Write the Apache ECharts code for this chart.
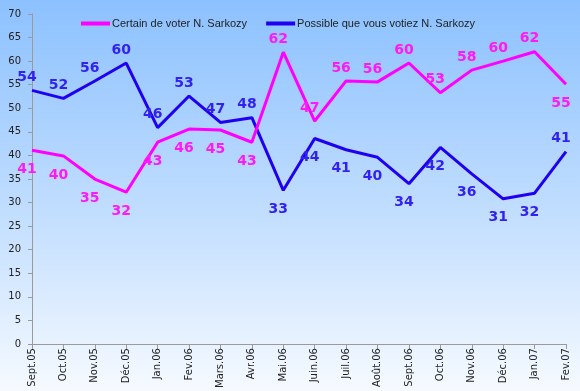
<!DOCTYPE html>
<html>
<head>
<meta charset="utf-8">
<script src="https://cdn.jsdelivr.net/npm/echarts@6/dist/echarts.min.js"></script>
<style>html,body{margin:0;padding:0;}#c{width:580px;height:391px;}</style>
</head>
<body>
<div id="c"></div>
<script>
const categories = ['Sept.05','Oct.05','Nov.05','Déc.05','Jan.06','Fev.06','Mars.06','Avr.06','Mai.06','Juin.06','Juil.06','Août.06','Sept.06','Oct.06','Nov.06','Déc.06','Jan.07','Fev.07'];
const certain = [41.1,39.9,35.0,32.2,42.8,45.6,45.4,42.8,61.9,47.3,55.8,55.6,59.6,53.3,58.1,60.0,62.0,55.1];
const possible = [53.8,52.1,55.8,59.6,45.9,52.6,47.0,48.0,32.6,43.6,41.2,39.6,34.0,41.7,36.1,30.8,32.0,40.8];
const seriesNames = ['Certain de voter N. Sarkozy','Possible que vous votiez N. Sarkozy'];

// label placement (style only)
const certainLabelPos = ['bottom','bottom','bottom','bottom','bottom','bottom','bottom','bottom','top','top','top','top','top','top','top','top','top','bottom'];
const possibleLabelPos = ['top','top','top','top','top','top','top','top','bottom','bottom','bottom','bottom','bottom','bottom','bottom','bottom','bottom','top'];

const pinkLine = '#FF00FF', pinkText = '#FF1AF5';
const blueLine = '#2000F0', blueText = '#3322EE';

function buildData(values, positions) {
  return values.map((v, i) => ({
    value: v,
    label: {
      position: positions[i],
      distance: positions[i] === 'top' ? 6 : 12,
      offset: [-5, 0]
    }
  }));
}

const labelBase = (color) => ({
  show: true,
  color: color,
  fontFamily: 'DejaVu Sans',
  fontWeight: 'bold',
  fontSize: 14,
  formatter: p => Math.round(p.value)
});

const chart = echarts.init(document.getElementById('c'), null, {renderer: 'canvas'});
chart.setOption({
  animation: false,
  backgroundColor: new echarts.graphic.LinearGradient(0, 0, 0, 1, [
    {offset: 0, color: '#8CC1FF'},
    {offset: 0.55, color: '#C2DEFF'},
    {offset: 1, color: '#F6FAFF'}
  ]),
  grid: {left: 32, right: 14, top: 14, bottom: 45, containLabel: false},
  legend: {
    left: 76, top: 13,
    icon: 'rect', itemWidth: 29, itemHeight: 4, itemGap: 19,
    textStyle: {fontFamily: 'Liberation Sans', fontSize: 11, color: '#222', padding: [0, 0, 0, -3]},
    data: seriesNames
  },
  xAxis: {
    type: 'category',
    data: categories,
    boundaryGap: false,
    axisLine: {lineStyle: {color: '#9a9a9a', width: 1}},
    axisTick: {show: true, length: 5, lineStyle: {color: '#9a9a9a'}},
    axisLabel: {rotate: 90, interval: 0, fontFamily: 'DejaVu Sans', fontSize: 10, color: '#222', margin: 4}
  },
  yAxis: {
    type: 'value',
    min: 0, max: 70, interval: 5,
    axisLine: {show: true, lineStyle: {color: '#9a9a9a', width: 1}},
    axisTick: {show: true, length: 4, lineStyle: {color: '#9a9a9a'}},
    splitLine: {show: false},
    axisLabel: {fontFamily: 'DejaVu Sans', fontSize: 10, color: '#222', margin: 11}
  },
  series: [
    {
      name: seriesNames[0], type: 'line',
      data: buildData(certain, certainLabelPos),
      symbol: 'circle', symbolSize: 0, showSymbol: true,
      lineStyle: {color: pinkLine, width: 3},
      itemStyle: {color: pinkLine},
      label: labelBase(pinkText),
      z: 3
    },
    {
      name: seriesNames[1], type: 'line',
      data: buildData(possible, possibleLabelPos),
      symbol: 'circle', symbolSize: 0, showSymbol: true,
      lineStyle: {color: blueLine, width: 3},
      itemStyle: {color: blueLine},
      label: labelBase(blueText),
      z: 2
    }
  ]
});
</script>
</body>
</html>
